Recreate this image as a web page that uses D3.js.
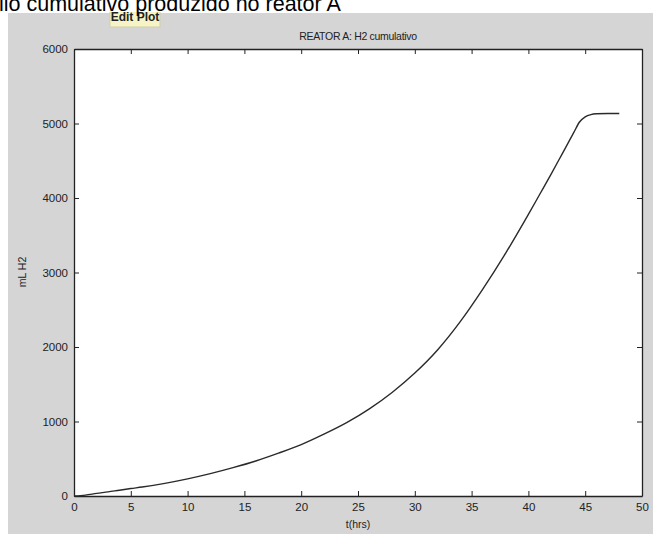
<!DOCTYPE html>
<html>
<head>
<meta charset="utf-8">
<script src="https://cdn.jsdelivr.net/npm/d3@7"></script>
<style>
  html, body { margin: 0; padding: 0; background: #fff; }
  svg { display: block; }
</style>
</head>
<body>
<svg id="chart" width="653" height="534"></svg>
<script>
// data
const hours = [0, 1, 2, 3, 4, 5, 6, 8, 10, 12, 14, 16, 18, 20, 22, 24, 26, 28, 30, 32, 34, 36, 38, 40, 41, 42, 43, 44, 44.5, 45, 45.5, 46, 47, 48];
const h2mL  = [0, 12, 35, 55, 78, 100, 120, 170, 230, 300, 380, 470, 575, 690, 830, 985, 1170, 1390, 1650, 1960, 2340, 2780, 3260, 3780, 4050, 4320, 4600, 4880, 5020, 5090, 5120, 5130, 5135, 5135];
const xTicks = [0, 5, 10, 15, 20, 25, 30, 35, 40, 45, 50];
const yTicks = [0, 1000, 2000, 3000, 4000, 5000, 6000];

const svg = d3.select("#chart");

// figure background (matlab grey)
svg.append("rect")
  .attr("x", 8).attr("y", 13)
  .attr("width", 645).attr("height", 521)
  .attr("fill", "#d5d5d5");

const x = d3.scaleLinear().domain([0, 50]).range([74, 642]);
const y = d3.scaleLinear().domain([0, 6000]).range([496, 49]);

// plot area
svg.append("rect")
  .attr("x", x(0)).attr("y", y(6000))
  .attr("width", x(50) - x(0)).attr("height", y(0) - y(6000))
  .attr("fill", "#fff");

const tickFont = "Liberation Sans, Arial, sans-serif";

// bottom + top axes, ticks pointing in
const xAxis = svg.append("g")
  .attr("transform", `translate(0,${y(0)})`)
  .call(d3.axisBottom(x).tickValues(xTicks).tickSizeInner(-5).tickSizeOuter(0).tickPadding(8));
svg.append("g")
  .attr("transform", `translate(0,${y(6000)})`)
  .call(d3.axisTop(x).tickValues(xTicks).tickSizeInner(-5).tickSizeOuter(0).tickFormat(""));

svg.append("g")
  .attr("transform", `translate(${x(0)},0)`)
  .call(d3.axisLeft(y).tickValues(yTicks).tickSizeInner(-5).tickSizeOuter(0).tickPadding(6).tickFormat(d3.format("d")));
svg.append("g")
  .attr("transform", `translate(${x(50)},0)`)
  .call(d3.axisRight(y).tickValues(yTicks).tickSizeInner(-5).tickSizeOuter(0).tickFormat(""));

svg.selectAll(".domain").attr("stroke", "#222").attr("stroke-width", 1.3);
svg.selectAll(".tick line").attr("stroke", "#222");
svg.selectAll(".tick text")
  .attr("fill", "#222")
  .style("font-family", tickFont)
  .style("font-size", "11.5px");
xAxis.selectAll(".tick text").attr("dy", "0.6em");

// the curve
svg.append("path")
  .datum(hours.map((t, i) => [t, h2mL[i]]))
  .attr("fill", "none")
  .attr("stroke", "#2a2a2a")
  .attr("stroke-width", 1.4)
  .attr("d", d3.line().x(d => x(d[0])).y(d => y(d[1])).curve(d3.curveMonotoneX));

// titles
svg.append("text")
  .attr("x", 358).attr("y", 40)
  .attr("text-anchor", "middle")
  .attr("fill", "#222")
  .style("font-family", tickFont)
  .style("font-size", "10.5px")
  .style("letter-spacing", "-0.3px")
  .text("REATOR A: H2 cumulativo");

svg.append("text")
  .attr("x", 358).attr("y", 528)
  .attr("text-anchor", "middle")
  .attr("fill", "#222")
  .style("font-family", tickFont)
  .style("font-size", "10.5px")
  .text("t(hrs)");

svg.append("text")
  .attr("transform", "translate(26,272) rotate(-90)")
  .attr("text-anchor", "middle")
  .attr("fill", "#222")
  .style("font-family", tickFont)
  .style("font-size", "10.5px")
  .text("mL H2");

// "Edit Plot" tooltip, its top hidden under the caption strip
svg.append("rect")
  .attr("x", 110).attr("y", 4)
  .attr("width", 50).attr("height", 23)
  .attr("fill", "#f6f4c6")
  .attr("stroke", "#d2cfa8");
svg.append("text")
  .attr("x", 135).attr("y", 21)
  .attr("text-anchor", "middle")
  .attr("fill", "#222")
  .style("font-family", tickFont)
  .style("font-size", "12px")
  .style("font-weight", "bold")
  .text("Edit Plot");

// caption strip above the figure, partly cut off
svg.append("rect")
  .attr("x", 0).attr("y", 0).attr("width", 653).attr("height", 12)
  .attr("fill", "#fff");
svg.append("text")
  .attr("x", -1).attr("y", 11)
  .attr("fill", "#000")
  .style("font-family", "Liberation Sans, Arial, sans-serif")
  .style("font-size", "21.5px")
  .text("lio cumulativo produzido no reator A");
</script>
</body>
</html>
